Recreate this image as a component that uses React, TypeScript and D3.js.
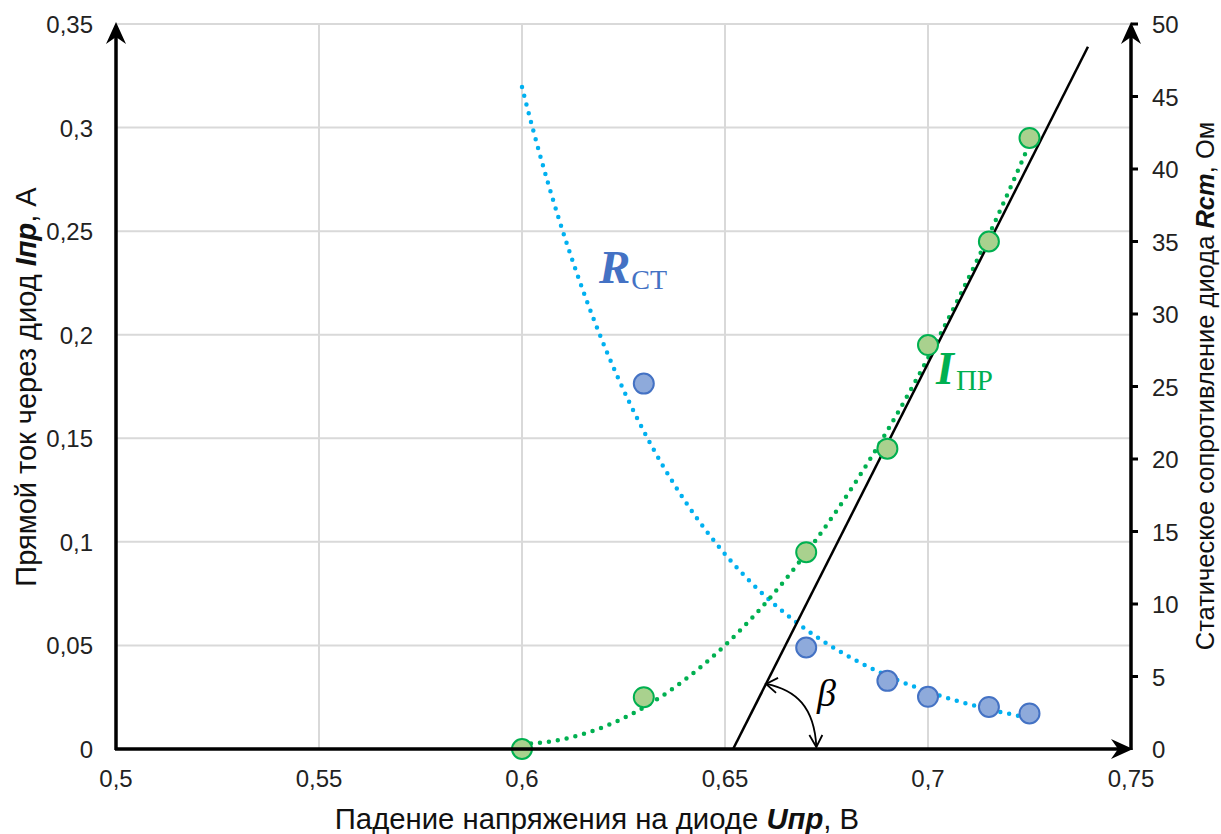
import React from "react";
import * as d3 from "d3";

// ---- data ----
const voltage = [0.6, 0.63, 0.67, 0.69, 0.7, 0.715, 0.725];
const current = [0, 0.025, 0.095, 0.145, 0.195, 0.245, 0.295];
const resistanceU = [0.63, 0.67, 0.69, 0.7, 0.715, 0.725];
const resistance = [25.2, 7.0, 4.7, 3.6, 2.9, 2.45];
const xTicks = [0.5, 0.55, 0.6, 0.65, 0.7, 0.75];
const yLeftTicks = [0, 0.05, 0.1, 0.15, 0.2, 0.25, 0.3, 0.35];
const yRightTicks = [0, 5, 10, 15, 20, 25, 30, 35, 40, 45, 50];
// tangent line endpoints (U, I)
const tangentU = [0.652, 0.7394];
const tangentI = [0, 0.339];

const W = 1221, H = 834;
const L = 116, R = 1131, T = 24, B = 749;

const fmt = (v: number) => String(+v.toFixed(3)).replace(".", ",");

function expFit(xs: number[], ys: number[]) {
  const ls = ys.map((y) => Math.log(y));
  const mx = d3.mean(xs)!, my = d3.mean(ls)!;
  let sxy = 0, sxx = 0;
  xs.forEach((x, i) => { sxy += (x - mx) * (ls[i] - my); sxx += (x - mx) ** 2; });
  const b = sxy / sxx, a = my - b * mx;
  return (x: number) => Math.exp(a + b * x);
}

function polyFit2(xs: number[], ys: number[]) {
  const mx = d3.mean(xs)!;
  const u = xs.map((x) => x - mx);
  const S = (p: number) => d3.sum(u, (v) => v ** p);
  const Sy = (p: number) => d3.sum(u, (v, i) => v ** p * ys[i]);
  const M = [
    [S(0), S(1), S(2), Sy(0)],
    [S(1), S(2), S(3), Sy(1)],
    [S(2), S(3), S(4), Sy(2)],
  ];
  for (let i = 0; i < 3; i++) {
    for (let k = i + 1; k < 3; k++) {
      const f = M[k][i] / M[i][i];
      for (let j = i; j < 4; j++) M[k][j] -= f * M[i][j];
    }
  }
  const c = [0, 0, 0];
  for (let i = 2; i >= 0; i--) {
    let s = M[i][3];
    for (let j = i + 1; j < 3; j++) s -= M[i][j] * c[j];
    c[i] = s / M[i][i];
  }
  return (x: number) => c[0] + c[1] * (x - mx) + c[2] * (x - mx) ** 2;
}

export default function App() {
  const x = d3.scaleLinear().domain([0.5, 0.75]).range([L, R]);
  const yL = d3.scaleLinear().domain([0, 0.35]).range([B, T]);
  const yR = d3.scaleLinear().domain([0, 50]).range([B, T]);

  const fR = expFit(resistanceU, resistance);
  const fI = polyFit2(voltage, current);
  const samples = d3.range(0, 101).map((i) => 0.6 + (0.125 * i) / 100);
  const rLine = d3.line<number>().x((u) => x(u)).y((u) => yR(fR(u)))(samples)!;
  const iLine = d3.line<number>().x((u) => x(u)).y((u) => yL(fI(u)))(samples)!;

  const sans = "'Liberation Sans', Arial, sans-serif";
  const serif = "'Liberation Serif', 'DejaVu Serif', serif";

  const tx0 = x(tangentU[0]), ty0 = yL(tangentI[0]);
  const tx1 = x(tangentU[1]), ty1 = yL(tangentI[1]);

  // beta arc
  const dir = [tx1 - tx0, ty1 - ty0];
  const len = Math.hypot(dir[0], dir[1]);
  const a0 = [tx0 + (dir[0] / len) * 73, ty0 + (dir[1] / len) * 73];
  const a1 = [x(0.6725), B - 2];

  const arrowUp = (cx: number, tip: number) =>
    `M${cx},${tip} L${cx - 10},${tip + 22} L${cx},${tip + 15} L${cx + 10},${tip + 22} Z`;
  const arrowRight = (tip: number, cy: number) =>
    `M${tip},${cy} L${tip - 22},${cy - 10} L${tip - 15},${cy} L${tip - 22},${cy + 10} Z`;

  return (
    <svg width={W} height={H} style={{ position: "absolute", left: 0, top: 0, background: "#fff" }}>
      {/* grid */}
      {xTicks.slice(1).map((t) => (
        <line key={"gx" + t} x1={x(t)} x2={x(t)} y1={T} y2={B} stroke="#d9d9d9" strokeWidth={2} />
      ))}
      {yLeftTicks.slice(1).map((t) => (
        <line key={"gy" + t} x1={L} x2={R} y1={yL(t)} y2={yL(t)} stroke="#d9d9d9" strokeWidth={2} />
      ))}

      {/* trendlines */}
      <path d={rLine} fill="none" stroke="#00b0f0" strokeWidth={4.5} strokeDasharray="0 9" strokeLinecap="round" />
      <path d={iLine} fill="none" stroke="#00b050" strokeWidth={4.5} strokeDasharray="0 9" strokeLinecap="round" />

      {/* tangent */}
      <line x1={tx0} y1={ty0} x2={tx1} y2={ty1} stroke="#000" strokeWidth={2.5} />

      {/* markers */}
      {resistanceU.map((u, i) => (
        <circle key={"r" + i} cx={x(u)} cy={yR(resistance[i])} r={10} fill="#8eaadb" stroke="#4472c4" strokeWidth={2} />
      ))}
      {voltage.map((u, i) => (
        <circle key={"i" + i} cx={x(u)} cy={yL(current[i])} r={10} fill="#a9d18e" stroke="#00b050" strokeWidth={2} />
      ))}

      {/* axes */}
      <line x1={L} x2={L} y1={B + 1} y2={T + 8} stroke="#000" strokeWidth={3.5} />
      <path d={arrowUp(L, T - 2)} fill="#000" />
      <line x1={L - 1} x2={R - 6} y1={B} y2={B} stroke="#000" strokeWidth={3.5} />
      <path d={arrowRight(R + 2, B)} fill="#000" />
      <line x1={R} x2={R} y1={B + 1} y2={T + 8} stroke="#000" strokeWidth={3.5} />
      <path d={arrowUp(R, T - 2)} fill="#000" />
      {yRightTicks.slice(1).map((t) => (
        <line key={"rt" + t} x1={R} x2={R + 7} y1={yR(t)} y2={yR(t)} stroke="#000" strokeWidth={3} />
      ))}

      {/* beta arc */}
      <path
        d={`M${a0[0]},${a0[1]} C${a0[0] + 30},${a0[1] + 6} ${a1[0] - 2},${a1[1] - 40} ${a1[0]},${a1[1]}`}
        fill="none"
        stroke="#000"
        strokeWidth={1.8}
      />
      <path d={`M${a0[0] + 12},${a0[1] - 6} L${a0[0]},${a0[1]} L${a0[0] + 10},${a0[1] + 9}`} fill="none" stroke="#000" strokeWidth={1.8} />
      <path d={`M${a1[0] - 7},${a1[1] - 12} L${a1[0]},${a1[1]} L${a1[0] + 6},${a1[1] - 12}`} fill="none" stroke="#000" strokeWidth={1.8} />
      <text x={817} y={706} fontFamily={serif} fontStyle="italic" fontSize={38}>β</text>

      {/* series labels */}
      <text x={599} y={283} fill="#4472c4" fontFamily={serif}>
        <tspan fontWeight="bold" fontStyle="italic" fontSize={47}>R</tspan>
        <tspan fontSize={28} dy={6} dx={1}>СТ</tspan>
      </text>
      <text x={936} y={384} fill="#00b050" fontFamily={serif}>
        <tspan fontWeight="bold" fontStyle="italic" fontSize={46}>I</tspan>
        <tspan fontSize={29} dy={6} dx={2}>ПР</tspan>
      </text>

      {/* tick labels */}
      {xTicks.map((t) => (
        <text key={"xl" + t} x={x(t)} y={787} textAnchor="middle" fontFamily={sans} fontSize={24} fill="#222">
          {fmt(t)}
        </text>
      ))}
      {yLeftTicks.map((t) => (
        <text key={"yl" + t} x={93} y={yL(t) + 9} textAnchor="end" fontFamily={sans} fontSize={24} fill="#222">
          {fmt(t)}
        </text>
      ))}
      {yRightTicks.map((t) => (
        <text key={"yr" + t} x={1152} y={yR(t) + 9} textAnchor="start" fontFamily={sans} fontSize={24} fill="#222">
          {fmt(t)}
        </text>
      ))}

      {/* axis titles */}
      <text x={597} y={829} textAnchor="middle" fontFamily={sans} fontSize={29.3} fill="#111">
        Падение напряжения на диоде <tspan fontWeight="bold" fontStyle="italic">Uпр</tspan>, В
      </text>
      <text transform={`translate(36,387) rotate(-90)`} textAnchor="middle" fontFamily={sans} fontSize={29} fill="#111">
        Прямой ток через диод <tspan fontWeight="bold" fontStyle="italic">Iпр</tspan>, А
      </text>
      <text transform={`translate(1214,386) rotate(-90)`} textAnchor="middle" fontFamily={sans} fontSize={25.5} fill="#111">
        Статическое сопротивление диода <tspan fontWeight="bold" fontStyle="italic">Rcm</tspan>, Ом
      </text>
    </svg>
  );
}
